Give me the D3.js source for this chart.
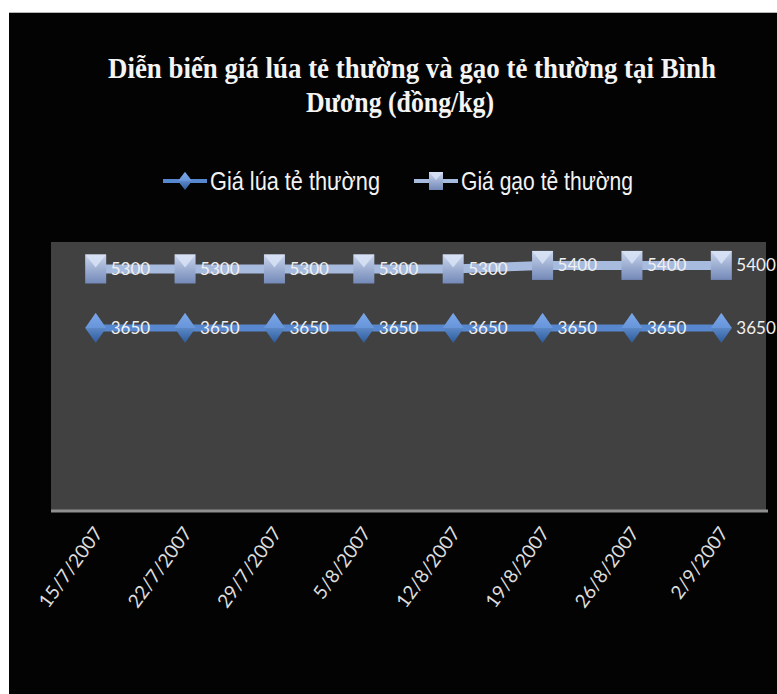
<!DOCTYPE html>
<html lang="vi">
<head>
<meta charset="UTF-8">
<title>Diễn biến giá lúa gạo</title>
<script src="https://d3js.org/d3.v7.min.js"></script>
<style>
  body { margin: 0; background: #fff; }
</style>
</head>
<body>
<svg id="chart"></svg>
<script>
    // data
    var dates = ["15/7/2007", "22/7/2007", "29/7/2007", "5/8/2007",
                 "12/8/2007", "19/8/2007", "26/8/2007", "2/9/2007"];
    var luaPrice = [3650, 3650, 3650, 3650, 3650, 3650, 3650, 3650];
    var gaoPrice = [5300, 5300, 5300, 5300, 5300, 5400, 5400, 5400];
    var seriesNames = ["Giá lúa tẻ thường", "Giá gạo tẻ thường"];
    var titleLines = ["Diễn biến giá lúa tẻ thường và gạo tẻ thường tại Bình", "Dương (đồng/kg)"];
    // the value axis is hidden; its range is estimated from where the rows sit
    var yDomain = [-1470, 6055];

    var W = 777, H = 694;
    var plot = {left: 51, right: 766, top: 242, bottom: 511};

    var svg = d3.select("#chart").attr("width", W).attr("height", H);

    // gradients for the bevelled markers
    var defs = svg.append("defs");
    function grad(id, c1, c2) {
        var g = defs.append("linearGradient").attr("id", id)
            .attr("x1", 0).attr("y1", 0).attr("x2", 0).attr("y2", 1);
        g.append("stop").attr("offset", "0%").attr("stop-color", c1);
        g.append("stop").attr("offset", "100%").attr("stop-color", c2);
    }
    grad("gSq", "#c9d5ec", "#7389b8");
    grad("gDia", "#8cb4f0", "#2c5b9c");

    // black chart area
    svg.append("rect").attr("x", 9).attr("y", 12).attr("width", W - 9).attr("height", H - 12)
        .attr("fill", "#030303");
    svg.append("line").attr("x1", 9).attr("x2", W).attr("y1", 12.5).attr("y2", 12.5)
        .attr("stroke", "#b5b5b5").attr("stroke-width", 1);

    // title
    svg.append("text").attr("x", 412).attr("y", 78)
        .attr("text-anchor", "middle")
        .attr("textLength", 608).attr("lengthAdjust", "spacingAndGlyphs")
        .style("font-family", "'Liberation Serif', serif").style("font-weight", "bold")
        .style("font-size", "29px").attr("fill", "#f4f4f4")
        .text(titleLines[0]);
    svg.append("text").attr("x", 400).attr("y", 112)
        .attr("text-anchor", "middle")
        .attr("textLength", 188).attr("lengthAdjust", "spacingAndGlyphs")
        .style("font-family", "'Liberation Serif', serif").style("font-weight", "bold")
        .style("font-size", "29px").attr("fill", "#f4f4f4")
        .text(titleLines[1]);

    // scales
    var xScale = d3.scaleBand().domain(dates).range([plot.left, plot.right]);
    var yScale = d3.scaleLinear().domain(yDomain).range([plot.bottom, plot.top]);
    var cx = function (d) { return xScale(d) + xScale.bandwidth() / 2; };

    // plot area
    svg.append("rect").attr("x", plot.left).attr("y", plot.top)
        .attr("width", plot.right - plot.left).attr("height", plot.bottom - plot.top)
        .attr("fill", "#414141");

    // x axis (line only, rotated labels)
    var xAxis = d3.axisBottom(xScale).tickSize(0).tickPadding(0);
    var axisG = svg.append("g").attr("transform", "translate(0," + plot.bottom + ")").call(xAxis);
    axisG.select(".domain").attr("stroke", "#8f8f8f").attr("stroke-width", 3)
        .attr("d", "M" + plot.left + ",0H" + (plot.right + 2));
    axisG.selectAll(".tick text")
        .attr("fill", "#dcdcdc")
        .style("font-family", "Lato, sans-serif").style("font-size", "19px")
        .attr("text-anchor", "end")
        .attr("dy", 0).attr("y", 0)
        .attr("transform", "translate(8,22) rotate(-54)");

    // series
    var series = [
        {name: seriesNames[1], values: gaoPrice, line: "#a7bbdf", width: 9, marker: "square"},
        {name: seriesNames[0], values: luaPrice, line: "#5787cf", width: 7, marker: "diamond"}
    ];

    var lineGen = d3.line()
        .x(function (d) { return cx(d.date); })
        .y(function (d) { return yScale(d.value); });

    function drawMarker(g, type, w, h) {
        if (type === "square") {
            g.append("rect").attr("x", -w / 2).attr("y", -h / 2).attr("width", w).attr("height", h)
                .attr("fill", "url(#gSq)");
            g.append("polygon")
                .attr("points", [[-w / 2, -h / 2], [w / 2, -h / 2], [0, -h / 2 + h * 0.45]].join(" "))
                .attr("fill", "#d9e3f6").attr("opacity", 0.85);
        } else {
            g.append("polygon")
                .attr("points", [[0, -h / 2], [w / 2, 0], [0, h / 2], [-w / 2, 0]].join(" "))
                .attr("fill", "url(#gDia)");
            g.append("polygon")
                .attr("points", [[0, -h / 2], [w / 2, 0], [-w / 2, 0]].join(" "))
                .attr("fill", "#6f9fe6").attr("opacity", 0.6);
        }
    }

    series.forEach(function (s) {
        var pts = dates.map(function (d, i) { return {date: d, value: s.values[i]}; });
        svg.append("path").datum(pts)
            .attr("d", lineGen).attr("fill", "none")
            .attr("stroke", s.line).attr("stroke-width", s.width);

        svg.selectAll(".m-" + s.marker).data(pts).enter()
            .append("g").attr("class", "m-" + s.marker)
            .attr("transform", function (d) { return "translate(" + cx(d.date) + "," + yScale(d.value) + ")"; })
            .each(function () { drawMarker(d3.select(this), s.marker, 21, s.marker === "square" ? 29 : 30); });

        svg.selectAll(".lbl-" + s.marker).data(pts).enter()
            .append("text").attr("class", "lbl-" + s.marker)
            .attr("x", function (d) { return cx(d.date) + 15; })
            .attr("y", function (d) { return yScale(d.value); })
            .attr("dy", "0.35em")
            .attr("fill", "#f0f0f0")
            .style("font-family", "Lato, sans-serif").style("font-size", "17px")
            .text(function (d) { return d.value; });
    });

    // legend
    var legend = [
        {name: seriesNames[0], x: 163, marker: "diamond", line: "#5787cf", tl: 170},
        {name: seriesNames[1], x: 414, marker: "square", line: "#a7bbdf", tl: 172}
    ];
    var legY = 181;
    legend.forEach(function (l) {
        var g = svg.append("g").attr("transform", "translate(" + l.x + "," + legY + ")");
        g.append("line").attr("x1", 0).attr("x2", 44).attr("y1", 0).attr("y2", 0)
            .attr("stroke", l.line).attr("stroke-width", 4);
        var m = g.append("g").attr("transform", "translate(22,0)");
        drawMarker(m, l.marker, 14, 18);
        g.append("text").attr("x", 47).attr("y", 0).attr("dy", "0.35em")
            .attr("textLength", l.tl).attr("lengthAdjust", "spacingAndGlyphs")
            .attr("fill", "#f2f2f2")
            .style("font-family", "'Liberation Sans', Arial, sans-serif").style("font-size", "25px")
            .text(l.name);
    });
</script>
</body>
</html>
